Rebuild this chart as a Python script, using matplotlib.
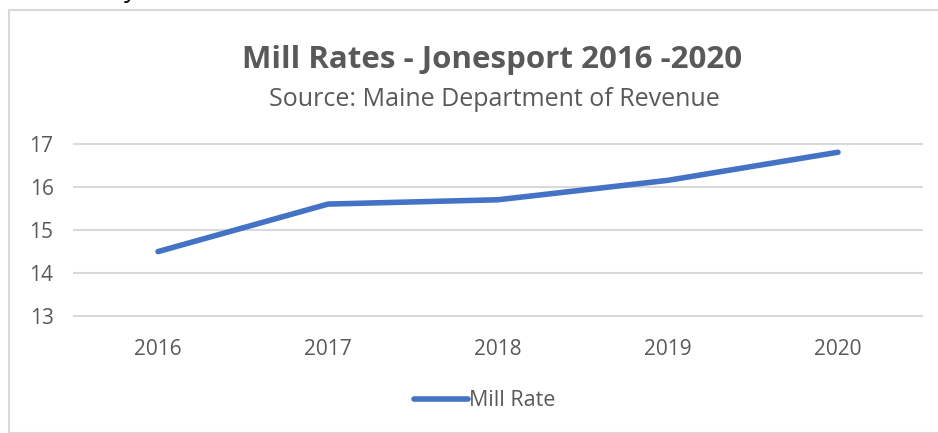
import matplotlib.pyplot as plt
from matplotlib.patches import Rectangle

plt.rcParams['font.family'] = ['Open Sans', 'DejaVu Sans']

# Mill rate data
years = ['2016', '2017', '2018', '2019', '2020']
mill_rate = [14.5, 15.6, 15.7, 16.15, 16.8]

fig = plt.figure(figsize=(9.38, 4.33), dpi=100)
W, H = 938, 433

# chart frame (cropped at right and bottom)
fig.patches.append(Rectangle((9 / W, 0), 1.2, 1 - 10 / H, transform=fig.transFigure,
                             fill=False, edgecolor='#D9D9D9', linewidth=1.5))
# clipped descender of text above the chart
fig.text(130 / W, 1 + 3 / H, 'y', fontsize=18, color='black', ha='center', va='baseline')

ax = fig.add_axes([73 / W, 1 - 338 / H, 850 / W, (338 - 122) / H])
x = range(len(years))
ax.plot(x, mill_rate, color='#4472C4', linewidth=4, solid_capstyle='round', label='Mill Rate')

ax.set_xlim(-0.5, len(years) - 0.5)
ax.set_ylim(12.5, 17.5)
ax.set_yticks([13, 14, 15, 16, 17])
ax.set_xticks(list(x))
ax.set_xticklabels(years)
ax.grid(axis='y', color='#D9D9D9', linewidth=1.5)
ax.set_axisbelow(True)
for s in ax.spines.values():
    s.set_visible(False)
ax.tick_params(length=0, labelsize=15, labelcolor='#595959')
ax.tick_params(axis='x', pad=1)
ax.tick_params(axis='y', pad=14)

fig.text(492 / W, 1 - 60 / H, 'Mill Rates - Jonesport 2016 -2020', fontsize=22.5, fontweight='bold',
         color='#595959', ha='center', va='center')
fig.text(494 / W, 1 - 100 / H, 'Source: Maine Department of Revenue', fontsize=18,
         color='#595959', ha='center', va='center')

fig.legend(loc='center', bbox_to_anchor=(485 / W, 1 - 401 / H), frameon=False, fontsize=15.5,
           labelcolor='#595959', handlelength=2.5, handletextpad=0.05)

fig.savefig('out.png', dpi=100)
